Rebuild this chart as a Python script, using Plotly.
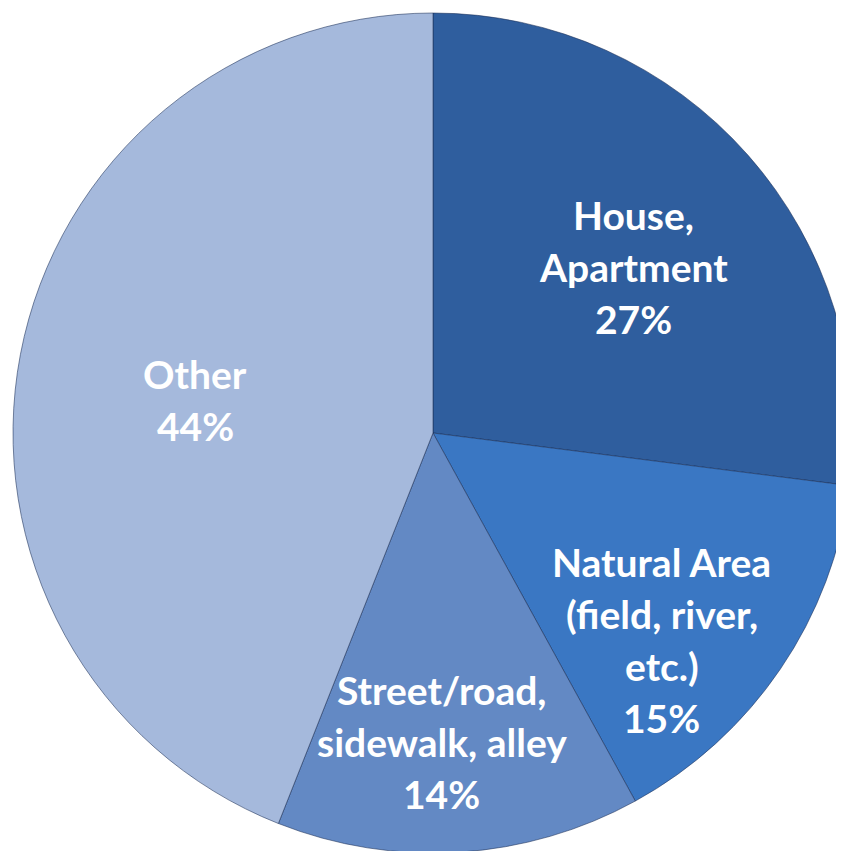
import math
import plotly.graph_objects as go

# ---- data ----
categories = ["House, Apartment", "Natural Area (field, river, etc.)", "Street/road, sidewalk, alley", "Other"]
label_lines = [["House,", "Apartment"], ["Natural Area", "(field, river,", "etc.)"], ["Street/road,", "sidewalk, alley"], ["Other"]]
values = [27, 15, 14, 44]

# ---- style ----
colors = ["#2F5E9E", "#3A77C3", "#6389C4", "#A5B9DC"]
label_radius = [0.62, 0.735, 0.736, 0.571]   # fraction of pie radius
label_dtheta = [1.7, 8.0, 2.0, -3.0]          # degrees offset from slice middle

W, H = 850, 850
CX, CY, R = 425, 425, 420  # pixel geometry of the pie (page body adds 8px offset)
LINE = 52
FONT = dict(family="Lato, 'Open Sans', sans-serif", size=39, color="white")

fig = go.Figure(go.Pie(
    labels=categories,
    values=values,
    sort=False,
    direction="clockwise",
    rotation=0,
    marker=dict(colors=colors, line=dict(color="rgba(25,45,85,0.55)", width=1)),
    textinfo="none",
    hoverinfo="label+percent",
    domain=dict(x=[(CX - R) / W, (CX + R) / W], y=[(H - CY - R) / H, (H - CY + R) / H]),
    showlegend=False,
))

total = sum(values)
cum = 0.0
for i, v in enumerate(values):
    theta = math.radians(360.0 * (cum + v / 2.0) / total + label_dtheta[i])
    cum += v
    px = CX + label_radius[i] * R * math.sin(theta)
    py = CY - label_radius[i] * R * math.cos(theta)
    lines = label_lines[i] + [f"{v}%"]
    n = len(lines)
    for j, t in enumerate(lines):
        yy = py + (j - (n - 1) / 2.0) * LINE
        fig.add_annotation(
            x=px / W, y=1 - yy / H, xref="paper", yref="paper",
            text=f"<b>{t}</b>", showarrow=False, font=FONT,
            xanchor="center", yanchor="middle",
        )

fig.update_layout(
    width=W, height=H,
    margin=dict(l=0, r=0, t=0, b=0),
    paper_bgcolor="white", plot_bgcolor="white",
)

fig.write_html("out.html")
